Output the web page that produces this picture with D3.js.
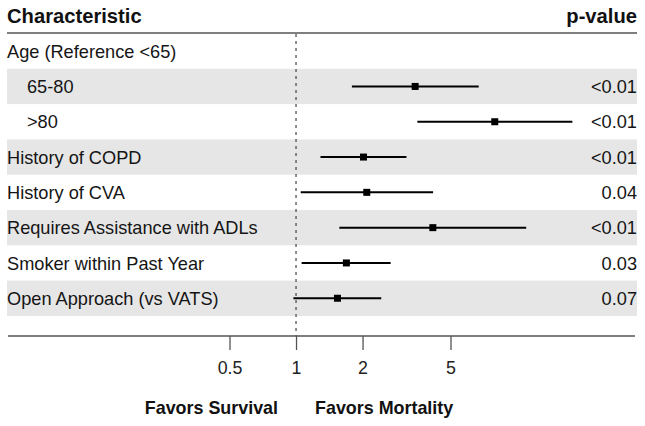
<!DOCTYPE html>
<html>
<head>
<meta charset="utf-8">
<script src="https://cdn.jsdelivr.net/npm/d3@7"></script>
<style>
  html, body { margin: 0; padding: 0; background: #fff; }
  svg { display: block; font-family: "Liberation Sans", Arial, Helvetica, sans-serif; }
</style>
</head>
<body>
<svg id="chart" width="645" height="426"></svg>
<script>
const labels = ["Age (Reference <65)", "65-80", ">80", "History of COPD", "History of CVA",
  "Requires Assistance with ADLs", "Smoker within Past Year", "Open Approach (vs VATS)"];
const indent = [false, true, true, false, false, false, false, false];
const estimate = [null, 3.46, 7.93, 2.02, 2.09, 4.16, 1.69, 1.54];
const ciLow = [null, 1.79, 3.54, 1.29, 1.05, 1.57, 1.06, 0.973];
const ciHigh = [null, 6.71, 17.8, 3.16, 4.17, 11.0, 2.68, 2.43];
const pValues = ["", "<0.01", "<0.01", "<0.01", "0.04", "<0.01", "0.03", "0.07"];
const tickValues = [0.5, 1, 2, 5];

const svg = d3.select("#chart");
const leftX = 7, rightX = 637;
const topY = 33.5, rowH = 35.3;
const axisY = 336;

const x = d3.scaleLog().domain([0.5, 5]).range([229.5, 450.5]);
const y = d3.scaleBand().domain(d3.range(labels.length)).range([topY, topY + rowH * labels.length]).padding(0);

// shaded bands
svg.append("g").selectAll("rect")
  .data(d3.range(labels.length).filter(i => i % 2 === 1))
  .join("rect")
  .attr("x", leftX).attr("width", rightX - leftX)
  .attr("y", i => y(i)).attr("height", y.bandwidth())
  .attr("fill", "#e6e6e6");

// header
svg.append("text").attr("x", leftX).attr("y", 22.5)
  .attr("font-size", 20.2).attr("font-weight", "bold").attr("fill", "#111")
  .text("Characteristic");
svg.append("text").attr("x", rightX).attr("y", 22.5).attr("text-anchor", "end")
  .attr("font-size", 20.2).attr("font-weight", "bold").attr("fill", "#111")
  .text("p-value");
svg.append("line").attr("x1", leftX).attr("x2", rightX).attr("y1", 33).attr("y2", 33)
  .attr("stroke", "#555").attr("stroke-width", 1.6);

// reference line
svg.append("line").attr("x1", x(1)).attr("x2", x(1)).attr("y1", 34).attr("y2", axisY)
  .attr("stroke", "#444").attr("stroke-width", 1.2).attr("stroke-dasharray", "3,4");

// labels
svg.append("g").selectAll("text").data(labels).join("text")
  .attr("x", (d, i) => indent[i] ? leftX + 20 : leftX)
  .attr("y", (d, i) => y(i) + y.bandwidth() / 2)
  .attr("dy", "0.36em")
  .attr("font-size", 18.2).attr("fill", "#151515")
  .text(d => d);

// p-values
svg.append("g").selectAll("text").data(pValues).join("text")
  .attr("x", rightX).attr("text-anchor", "end")
  .attr("y", (d, i) => y(i) + y.bandwidth() / 2)
  .attr("dy", "0.36em")
  .attr("font-size", 18.2).attr("fill", "#151515")
  .text(d => d);

// CIs and points
const idx = d3.range(labels.length).filter(i => estimate[i] !== null);
const g = svg.append("g");
g.selectAll("line.ci").data(idx).join("line").attr("class", "ci")
  .attr("x1", i => x(ciLow[i])).attr("x2", i => x(ciHigh[i]))
  .attr("y1", i => y(i) + y.bandwidth() / 2).attr("y2", i => y(i) + y.bandwidth() / 2)
  .attr("stroke", "#000").attr("stroke-width", 2);
g.selectAll("rect.pt").data(idx).join("rect").attr("class", "pt")
  .attr("x", i => x(estimate[i]) - 3.5).attr("y", i => y(i) + y.bandwidth() / 2 - 3.5)
  .attr("width", 7).attr("height", 7).attr("fill", "#000");

// axis
svg.append("line").attr("x1", leftX + 1).attr("x2", rightX - 2).attr("y1", axisY).attr("y2", axisY)
  .attr("stroke", "#555").attr("stroke-width", 1.5);
const ax = svg.append("g").attr("transform", `translate(0,${axisY})`)
  .call(d3.axisBottom(x).tickValues(tickValues).tickFormat(d3.format("")).tickSize(14).tickPadding(11));
ax.select(".domain").remove();
ax.selectAll(".tick line").attr("stroke", "#555").attr("stroke-width", 1.3);
ax.selectAll(".tick text").attr("font-size", 17.8).attr("fill", "#222")
  .attr("font-family", "Liberation Sans, Arial, sans-serif");

svg.append("text").attr("x", x(1) - 18).attr("y", 414).attr("text-anchor", "end")
  .attr("font-size", 17.9).attr("font-weight", "bold").attr("fill", "#111")
  .text("Favors Survival");
svg.append("text").attr("x", x(1) + 19).attr("y", 414)
  .attr("font-size", 17.9).attr("font-weight", "bold").attr("fill", "#111")
  .text("Favors Mortality");
</script>
</body>
</html>
